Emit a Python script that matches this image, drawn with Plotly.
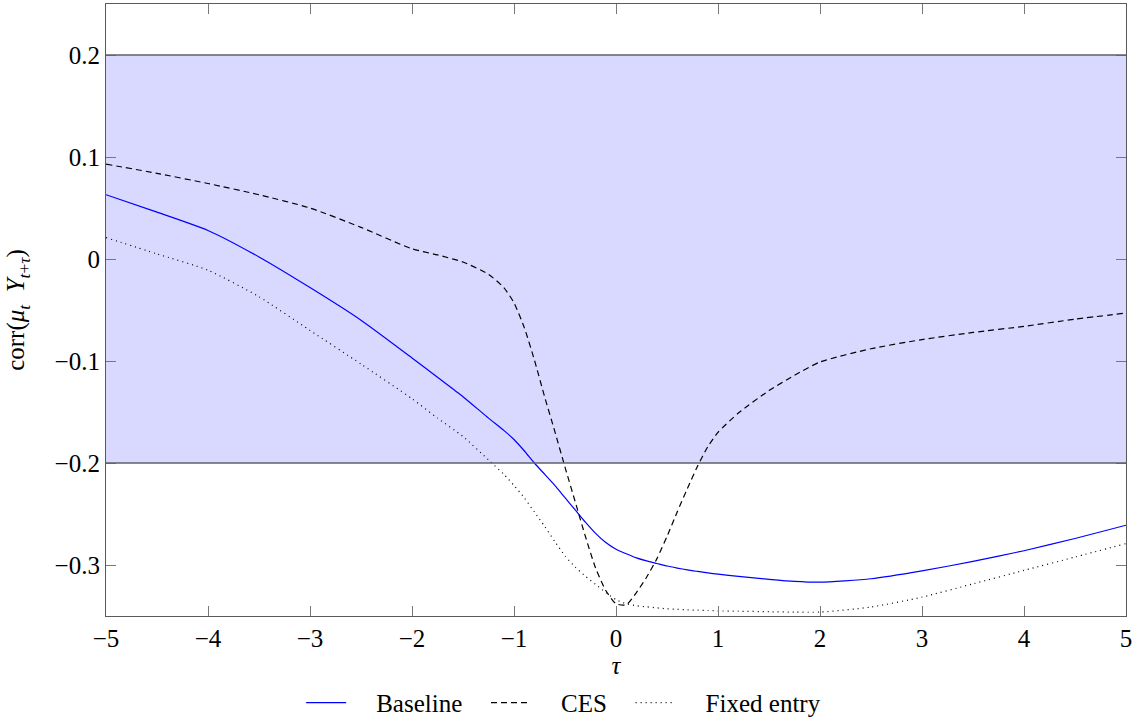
import plotly.graph_objects as go

tau = [-5, -4.5, -4, -3.5, -3, -2.5, -2, -1.75, -1.5, -1.25, -1.1, -1, -0.9, -0.8, -0.7,
       -0.6, -0.5, -0.4, -0.3, -0.2, -0.1, 0, 0.1, 0.2, 0.3, 0.4, 0.5, 0.6, 0.7, 0.8,
       0.9, 1, 1.2, 1.5, 1.75, 2, 2.5, 3, 3.5, 4, 4.5, 5]

baseline = [0.063, 0.046, 0.028, 0.002, -0.028, -0.060, -0.097, -0.116, -0.135, -0.156,
            -0.168, -0.177, -0.188, -0.200, -0.211, -0.222, -0.234, -0.246, -0.258, -0.269,
            -0.278, -0.2845, -0.2890, -0.2930, -0.2960, -0.2985, -0.3010, -0.3030, -0.3048, -0.3063,
            -0.3077, -0.3090, -0.3112, -0.3140, -0.3160, -0.3168, -0.3135, -0.3058, -0.2965, -0.2860,
            -0.2740, -0.2610]

ces = [0.093, 0.084, 0.074, 0.063, 0.050, 0.031, 0.010, 0.004, -0.003, -0.015,
       -0.028, -0.043, -0.067, -0.099, -0.135, -0.169, -0.204, -0.238, -0.272, -0.303,
       -0.325, -0.338, -0.339, -0.327, -0.312, -0.294, -0.272, -0.248, -0.225, -0.203,
       -0.184, -0.170, -0.151, -0.129, -0.114, -0.101, -0.088, -0.079, -0.072, -0.066,
       -0.059, -0.053]

fixed_entry = [0.021, 0.005, -0.011, -0.037, -0.070, -0.103, -0.137, -0.156, -0.174, -0.197,
               -0.211, -0.222, -0.234, -0.248, -0.262, -0.277, -0.291, -0.302, -0.311, -0.319,
               -0.327, -0.334, -0.338, -0.340, -0.341, -0.342, -0.343, -0.3435, -0.344, -0.3443,
               -0.3446, -0.345, -0.3453, -0.3458, -0.3462, -0.3462, -0.3412, -0.3315, -0.3185, -0.3053,
               -0.2922, -0.2790]

band = [-0.2, 0.2]

series_names = ["Baseline", "CES", "Fixed entry"]

x_ticks = [-5, -4, -3, -2, -1, 0, 1, 2, 3, 4, 5]
x_ticktext = ["\u22125", "\u22124", "\u22123", "\u22122", "\u22121", "0", "1", "2", "3", "4", "5"]
y_ticks = [-0.3, -0.2, -0.1, 0, 0.1, 0.2]
y_ticktext = ["\u22120.3", "\u22120.2", "\u22120.1", "0", "0.1", "0.2"]

FONT = "Liberation Serif"
NB = "\u00a0"


def legend_label(name):
    return NB * 4 + name + NB * 3


fig = go.Figure()
fig.add_trace(go.Scatter(x=tau, y=baseline, mode="lines", name=legend_label(series_names[0]),
                         line=dict(color="rgb(0,0,255)", width=1.2, shape="spline", smoothing=0.6)))
fig.add_trace(go.Scatter(x=tau, y=ces, mode="lines", name=legend_label(series_names[1]),
                         line=dict(color="black", width=1.2, dash="6px,4px", shape="spline", smoothing=0.6)))
fig.add_trace(go.Scatter(x=tau, y=fixed_entry, mode="lines", name=legend_label(series_names[2]),
                         line=dict(color="black", width=1.2, dash="1px,4px", shape="spline", smoothing=0.6)))

fig.add_shape(type="rect", xref="paper", yref="y", x0=0, x1=1, y0=band[0], y1=band[1],
              fillcolor="rgb(217,217,255)", line=dict(width=0), layer="below")
for b in band:
    fig.add_shape(type="line", xref="paper", yref="y", x0=0, x1=1, y0=b, y1=b,
                  line=dict(color="rgb(95,95,105)", width=1.5), layer="above")

axis_common = dict(showgrid=False, zeroline=False, showline=True, mirror="ticks",
                   linecolor="rgb(90,90,90)", linewidth=1.2, ticks="inside", ticklen=10,
                   tickcolor="rgb(120,120,120)", tickwidth=1, automargin=False,
                   tickfont=dict(family=FONT, size=25, color="black"))

fig.update_xaxes(range=[-5, 5], tickvals=x_ticks, ticktext=x_ticktext,
                 title=dict(text="<i>\u03c4</i>", font=dict(family=FONT, size=25, color="black"), standoff=1),
                 **axis_common)
fig.update_yaxes(range=[-0.35, 0.25], tickvals=y_ticks, ticktext=y_ticktext,
                 title=dict(text="corr(<i>\u03bc<sub>t</sub></i>  <i>Y</i><sub><i>t</i>+<i>\u03c4</i></sub>)",
                            font=dict(family=FONT, size=25, color="black"), standoff=22),
                 **axis_common)

fig.update_layout(
    width=1134, height=717,
    margin=dict(l=106, r=8, t=4, b=101, autoexpand=False),
    plot_bgcolor="white", paper_bgcolor="white",
    font=dict(family=FONT, size=25, color="black"),
    legend=dict(orientation="h", x=0.4575, xanchor="center", y=-0.142, yanchor="middle",
                font=dict(family=FONT, size=25, color="black"), itemwidth=40,
                tracegroupgap=0, bgcolor="rgba(0,0,0,0)"),
)

fig.write_html("out.html", config={"displayModeBar": False},
               post_script="document.body.style.margin='0px';")
